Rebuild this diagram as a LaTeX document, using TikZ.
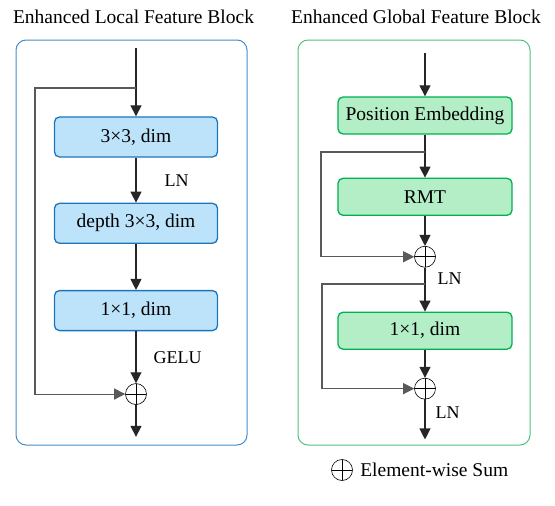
\documentclass[tikz,border=0pt]{standalone}
\usepackage{fontspec}
\setmainfont{Liberation Serif}
\usetikzlibrary{positioning, arrows.meta}
\definecolor{localfill}{RGB}{189,227,251}
\definecolor{localline}{RGB}{28,117,188}
\definecolor{localpanel}{RGB}{70,140,200}
\definecolor{globalfill}{RGB}{180,238,198}
\definecolor{globalline}{RGB}{0,176,80}
\definecolor{globalpanel}{RGB}{80,195,125}

\begin{document}
\begin{tikzpicture}[
    x=1pt, y=-1pt,
    font=\fontsize{19.5}{22}\selectfont,
    panel/.style={rectangle, draw, rounded corners=10pt, line width=1pt},
    localbox/.style={rectangle, draw=localline, fill=localfill, line width=1.3pt, rounded corners=5pt, minimum width=163pt, minimum height=40pt},
    globalbox/.style={rectangle, draw=globalline, fill=globalfill, line width=1.3pt, rounded corners=5pt, minimum width=174pt, minimum height=37pt},
    sum/.style={circle, draw, line width=0.6pt, minimum size=21pt, inner sep=0pt,
        path picture={\draw[line width=0.6pt] (path picture bounding box.north) -- (path picture bounding box.south)
            (path picture bounding box.west) -- (path picture bounding box.east);}},
    flow/.style={-{Triangle[length=11pt, width=11pt]}, line width=1.1pt, draw=black!85},
    skip/.style={flow, draw=black!65},
    lbl/.style={inner sep=0pt, font=\fontsize{18}{20}\selectfont}
]
    \useasboundingbox (0,0) rectangle (555,506);

    % local block
    \node (ltitle) at (133.5,17) {Enhanced Local Feature Block};
    \node[panel, draw=localpanel, minimum width=231pt, minimum height=405pt] (lpanel) at (131.5,242.5) {};
    \coordinate (lin) at (136,48);
    \coordinate (lsplit) at (136,88);
    \coordinate (lskip) at (35,88);
    \node[localbox] (conv1) at (136,137) {3×3, dim};
    \node[localbox] (conv2) [below=45pt of conv1] {depth 3×3, dim};
    \node[localbox] (conv3) [below=46pt of conv2] {1×1, dim};
    \node[sum] (lsum) [below=52pt of conv3] {};
    \coordinate[below=32pt of lsum] (lout);

    \draw[flow] (lin) -- (conv1);
    \draw[flow] (conv1) -- node[lbl, right=28pt] {LN} (conv2);
    \draw[flow] (conv2) -- (conv3);
    \draw[flow] (conv3) -- node[lbl, right=17pt] {GELU} (lsum);
    \draw[flow] (lsum) -- (lout);
    \draw[skip] (lsplit) -- (lskip) |- (lsum.west);

    % global block
    \node (gtitle) at (416,17) {Enhanced Global Feature Block};
    \node[panel, draw=globalpanel, minimum width=232pt, minimum height=405pt] (gpanel) at (414,242.5) {};
    \coordinate (gin) at (425,53);
    \coordinate (gsplit1) at (425,152);
    \coordinate (gskip1) at (321,152);
    \coordinate (gsplit2) at (425,284);
    \coordinate (gskip2) at (322,284);
    \node[globalbox] (pe) at (425,115.5) {Position Embedding};
    \node[globalbox] (rmt) [below=43pt of pe] {RMT};
    \node[sum] (gsum1) [below=30pt of rmt] {};
    \node[globalbox] (proj) [below=44pt of gsum1] {1×1, dim};
    \node[sum] (gsum2) [below=28pt of proj] {};
    \coordinate[below=40pt of gsum2] (gout);

    \draw[flow] (gin) -- (pe);
    \draw[flow] (pe) -- (rmt);
    \draw[flow] (rmt) -- (gsum1);
    \draw[flow] (gsum1) -- node[lbl, pos=0.25, right=12pt] {LN} (proj);
    \draw[flow] (proj) -- (gsum2);
    \draw[flow] (gsum2) -- node[lbl, pos=0.34, right=10pt] {LN} (gout);
    \draw[skip] (gsplit1) -- (gskip1) |- (gsum1.west);
    \draw[skip] (gsplit2) -- (gskip2) |- (gsum2.west);

    % legend
    \node[sum] (legsum) at (342,470) {};
    \node (legtext) [right=4pt of legsum] {Element-wise Sum};
\end{tikzpicture}
\end{document}
